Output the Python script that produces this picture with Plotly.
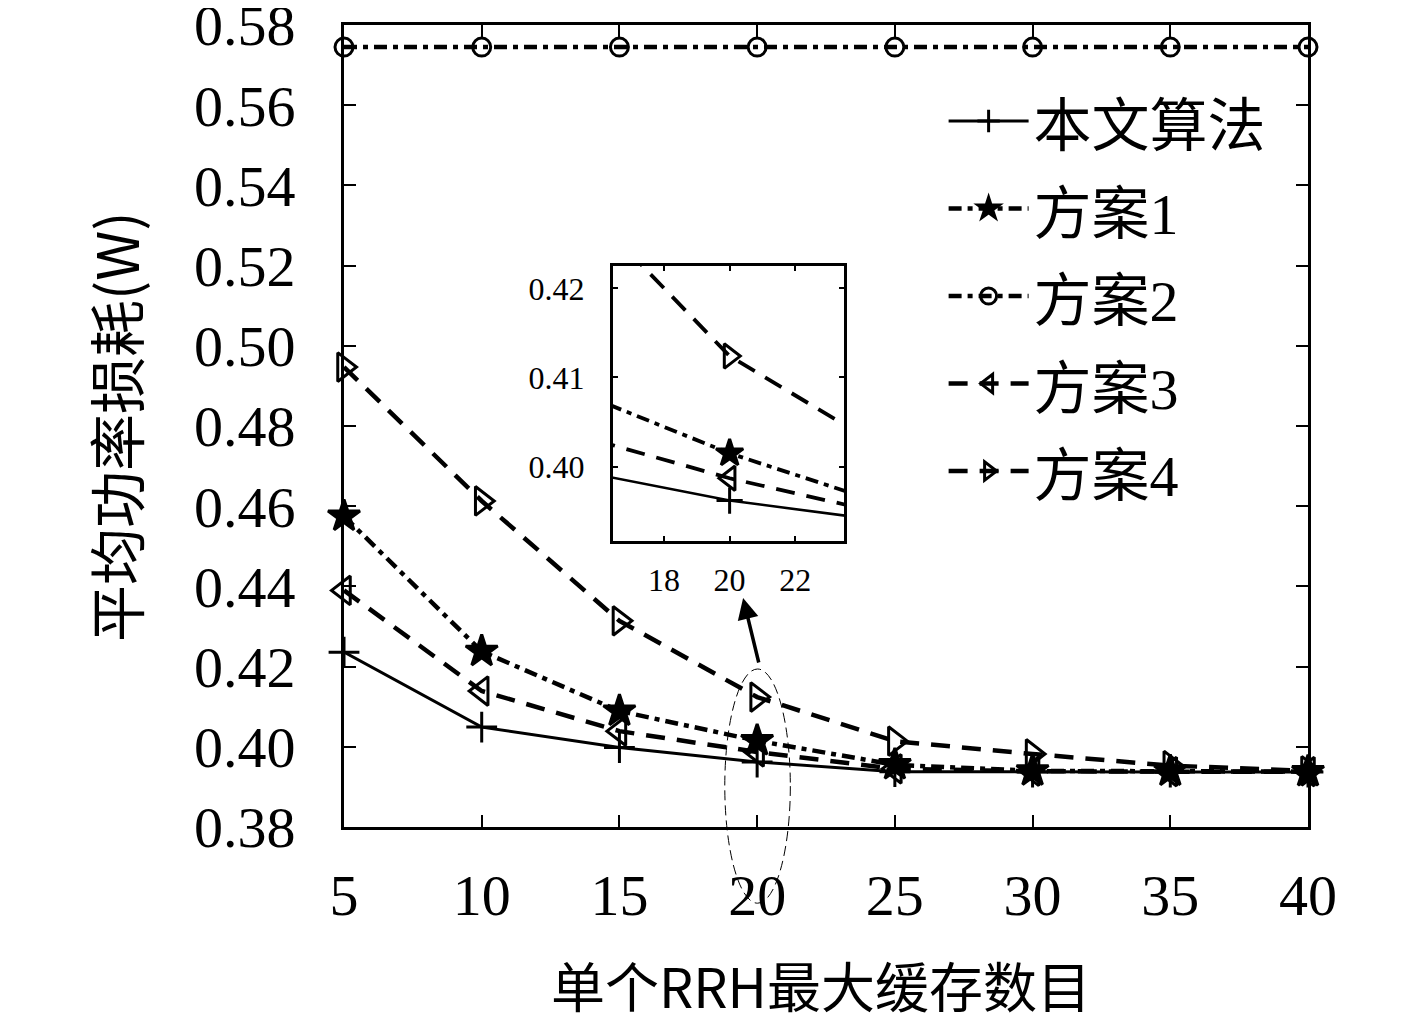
import plotly.graph_objects as go

# -----------------------------------------
# DATA
# -----------------------------------------
cache_sizes = [5, 10, 15, 20, 25, 30, 35, 40]

ours    = [0.4236, 0.4049, 0.3998, 0.3962, 0.3938, 0.3937, 0.3937, 0.3937]
scheme1 = [0.4575, 0.4238, 0.4089, 0.4015, 0.3955, 0.3940, 0.3939, 0.3938]
scheme2 = [0.5745, 0.5745, 0.5745, 0.5745, 0.5745, 0.5745, 0.5745, 0.5745]
scheme3 = [0.4390, 0.4139, 0.4039, 0.3987, 0.3945, 0.3939, 0.3938, 0.3938]
scheme4 = [0.4947, 0.4613, 0.4314, 0.4124, 0.4014, 0.3982, 0.3953, 0.3940]

names = ["本文算法", "方案1", "方案2", "方案3", "方案4"]

main_ticks_x = [5, 10, 15, 20, 25, 30, 35, 40]
main_ticks_y = [0.38, 0.40, 0.42, 0.44, 0.46, 0.48, 0.50, 0.52, 0.54, 0.56, 0.58]
inset_ticks_x = [18, 20, 22]
inset_ticks_y = [0.40, 0.41, 0.42]

# -----------------------------------------
# STYLE
# -----------------------------------------
SERIF = "Liberation Serif, Noto Sans CJK SC"
CJK = "Noto Sans CJK SC, Liberation Serif"

styles = [
    dict(dash="solid",            width=3,   symbol="cross-thin-open",     size=22),
    dict(dash="13px,6px,5px,6px", width=4.5, symbol="star",                size=24),
    dict(dash="13px,6px,5px,6px", width=4.5, symbol="circle-open",         size=18),
    dict(dash="19px,12px",        width=4.5, symbol="triangle-left-open",  size=25),
    dict(dash="19px,12px",        width=4.5, symbol="triangle-right-open", size=25),
]
series = [ours, scheme1, scheme2, scheme3, scheme4]

fig = go.Figure()

# main plot
for name, ys, st in zip(names, series, styles):
    fig.add_trace(go.Scatter(
        x=cache_sizes, y=ys, name=f'<span style="font-size:58px">{name}</span>',
        mode="lines+markers",
        line=dict(color="black", width=st["width"], dash=st["dash"]),
        marker=dict(symbol=st["symbol"], size=st["size"], color="black",
                    line=dict(color="black", width=3)),
        cliponaxis=False,
    ))

# inset (zoom around x=20)
for ys, st in zip(series, styles):
    fig.add_trace(go.Scatter(
        x=cache_sizes, y=ys, xaxis="x2", yaxis="y2", showlegend=False,
        mode="lines+markers",
        line=dict(color="black", width=st["width"] * 0.85, dash=st["dash"]),
        marker=dict(symbol=st["symbol"], size=st["size"] * 0.85, color="black",
                    line=dict(color="black", width=3)),
        cliponaxis=True,
    ))

axis_common = dict(
    showline=True, linecolor="black", linewidth=3, mirror="ticks",
    ticks="inside", tickcolor="black", showgrid=False, zeroline=False,
    ticklabeloverflow="allow", automargin=False,
)

fig.update_layout(
    width=1417, height=1028,
    margin=dict(l=336, r=117, t=17, b=209),
    paper_bgcolor="white", plot_bgcolor="white",
    xaxis=dict(range=[5, 40], tickvals=main_ticks_x, ticklen=12, tickwidth=2,
               ticklabelstandoff=15,
               tickfont=dict(family=SERIF, size=58, color="black"), **axis_common),
    yaxis=dict(range=[0.37999, 0.58001], tickvals=main_ticks_y, tickformat=".2f",
               ticklen=12, tickwidth=2, ticklabelstandoff=34,
               tickfont=dict(family=SERIF, size=58, color="black"), **axis_common),
    xaxis2=dict(domain=[0.279, 0.519], anchor="y2", range=[16.44, 23.5],
                tickvals=inset_ticks_x, ticklen=5, tickwidth=2,
                ticklabelstandoff=9,
                tickfont=dict(family=SERIF, size=32, color="black"), **axis_common),
    yaxis2=dict(domain=[0.357, 0.6995], anchor="x2", range=[0.3917, 0.4225],
                tickvals=inset_ticks_y, tickformat=".2f", ticklen=5, tickwidth=2,
                ticklabelstandoff=19,
                tickfont=dict(family=SERIF, size=32, color="black"), **axis_common),
    legend=dict(x=0.622, y=0.941, xanchor="left", yanchor="top",
                bgcolor="rgba(0,0,0,0)", borderwidth=0, itemwidth=80,
                font=dict(family=SERIF, size=65, color="black")),
    showlegend=True,
)

# axis titles
fig.add_annotation(text="平均功率损耗(W)", xref="paper", yref="paper",
                   x=-0.2386, y=0.5, xanchor="center", yanchor="middle",
                   textangle=-90, showarrow=False,
                   font=dict(family=CJK, size=57, color="black"))
fig.add_annotation(text="单个RRH最大缓存数目", xref="paper", yref="paper",
                   x=0.495, y=-0.197, xanchor="center", yanchor="middle",
                   showarrow=False,
                   font=dict(family=CJK, size=54, color="black"))

# dashed ellipse around x=20 and arrow to the inset
fig.add_shape(type="circle", xref="paper", yref="paper",
              x0=0.395, x1=0.463, y0=-0.095, y1=0.197,
              line=dict(color="black", width=1, dash="10px,5px"))
fig.add_annotation(text="", xref="paper", yref="paper", x=0.414, y=0.2855,
                   ax=16, ay=66, showarrow=True, arrowhead=2, arrowsize=1.2,
                   arrowwidth=3.5, arrowcolor="black")

fig.write_html("out.html")
